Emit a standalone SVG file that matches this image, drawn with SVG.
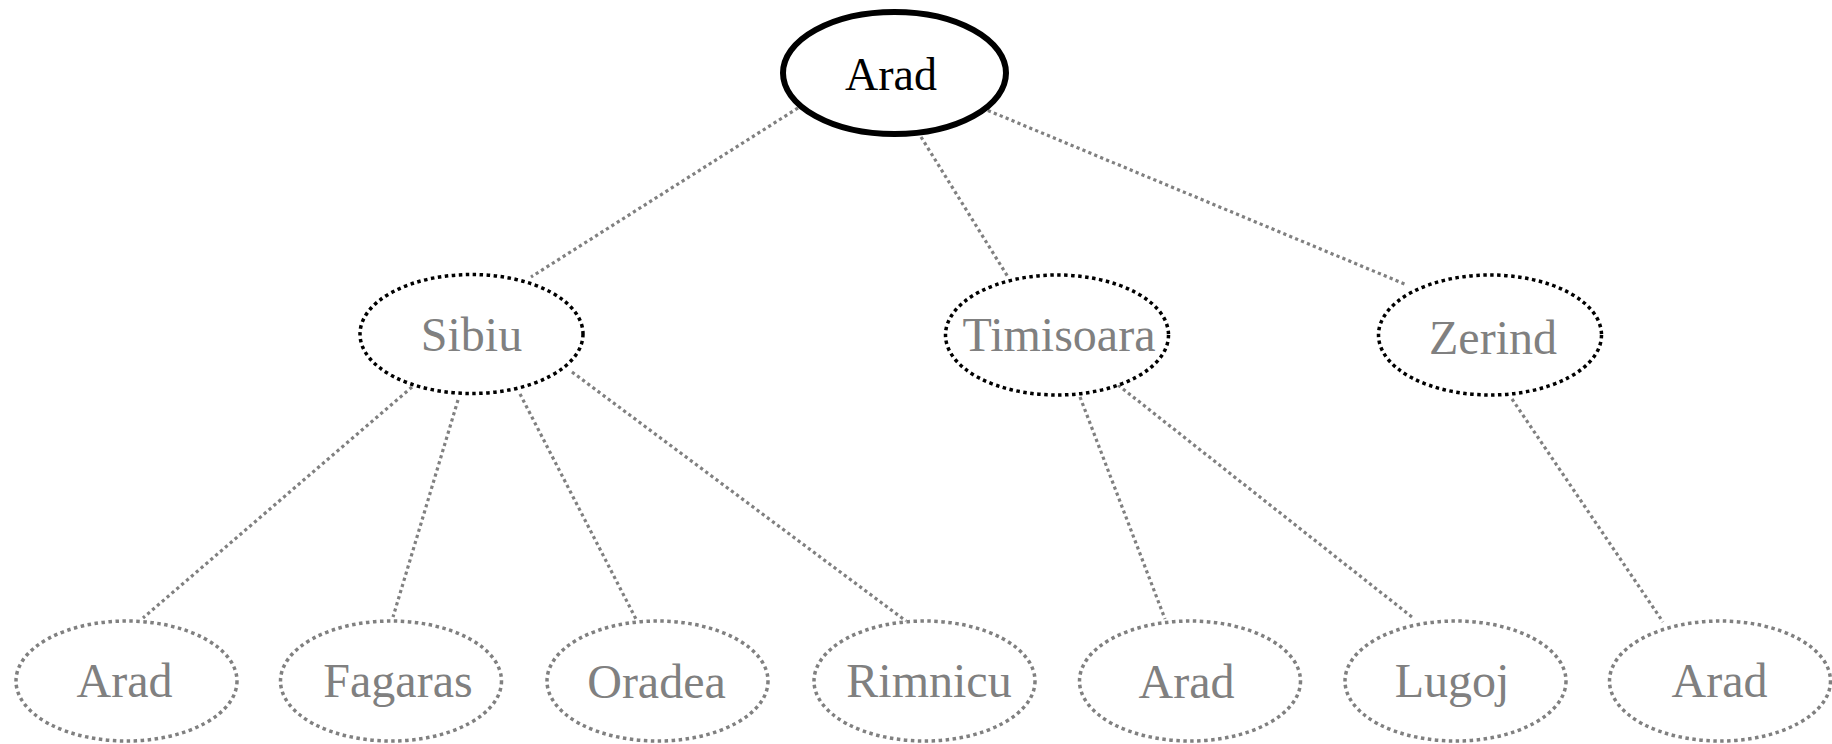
<svg xmlns="http://www.w3.org/2000/svg" width="1832" height="744" viewBox="0 0 1832 744">
<style>
.edge{stroke:#808080;stroke-width:3.2;stroke-dasharray:3.2 3.2;fill:none}
.root{fill:#fff;stroke:#000;stroke-width:6}
.mid{fill:#fff;stroke:#000;stroke-width:3.5;stroke-dasharray:3.5 3.5}
.leaf{fill:#fff;stroke:#808080;stroke-width:3.5;stroke-dasharray:3.5 3.5}
text{font-family:"Liberation Serif","Times New Roman",serif;font-size:48px;text-anchor:middle;fill:#808080}
.rt{fill:#000;font-size:46px}
</style>
<rect width="1832" height="744" fill="#fff"/>
<g id="edges">
<line class="edge" x1="798" y1="108" x2="531" y2="277"/>
<line class="edge" x1="921" y1="137" x2="1008" y2="277"/>
<line class="edge" x1="982" y1="108" x2="1407" y2="285"/>
<line class="edge" x1="412" y1="387" x2="143" y2="618"/>
<line class="edge" x1="458" y1="400" x2="393" y2="617"/>
<line class="edge" x1="520" y1="394" x2="637" y2="621"/>
<line class="edge" x1="572" y1="372" x2="906" y2="621"/>
<line class="edge" x1="1080" y1="397" x2="1165" y2="619"/>
<line class="edge" x1="1118" y1="385" x2="1412" y2="617"/>
<line class="edge" x1="1512" y1="399" x2="1663" y2="622"/>
</g>
<g id="n-arad-root"><ellipse class="root" cx="894.5" cy="73" rx="111.5" ry="61"/><text class="rt" x="891" y="90" font-family="Liberation Serif, serif">Arad</text></g>
<g id="n-sibiu"><ellipse class="mid" cx="471.5" cy="334" rx="111.5" ry="59.5"/><text x="471.5" y="351" font-family="Liberation Serif, serif">Sibiu</text></g>
<g id="n-timisoara"><ellipse class="mid" cx="1057" cy="335" rx="111.5" ry="60"/><text x="1059" y="351" font-family="Liberation Serif, serif">Timisoara</text></g>
<g id="n-zerind"><ellipse class="mid" cx="1490" cy="335" rx="111.5" ry="60"/><text x="1493" y="354" font-family="Liberation Serif, serif">Zerind</text></g>
<g id="n-arad-1"><ellipse class="leaf" cx="126.5" cy="681" rx="110.5" ry="60"/><text x="124.5" y="697" font-family="Liberation Serif, serif">Arad</text></g>
<g id="n-fagaras"><ellipse class="leaf" cx="391" cy="681" rx="110.5" ry="60"/><text x="398" y="697" font-family="Liberation Serif, serif">Fagaras</text></g>
<g id="n-oradea"><ellipse class="leaf" cx="657.5" cy="681" rx="110.5" ry="60"/><text x="656.5" y="698" font-family="Liberation Serif, serif">Oradea</text></g>
<g id="n-rimnicu"><ellipse class="leaf" cx="924.5" cy="681" rx="110.5" ry="60"/><text x="929" y="697" font-family="Liberation Serif, serif">Rimnicu</text></g>
<g id="n-arad-2"><ellipse class="leaf" cx="1190" cy="681" rx="110.5" ry="60"/><text x="1186.5" y="698" font-family="Liberation Serif, serif">Arad</text></g>
<g id="n-lugoj"><ellipse class="leaf" cx="1455.5" cy="681" rx="110.5" ry="60"/><text x="1452" y="697" font-family="Liberation Serif, serif">Lugoj</text></g>
<g id="n-arad-3"><ellipse class="leaf" cx="1720" cy="681" rx="110.5" ry="60"/><text x="1719.5" y="697" font-family="Liberation Serif, serif">Arad</text></g>
</svg>
